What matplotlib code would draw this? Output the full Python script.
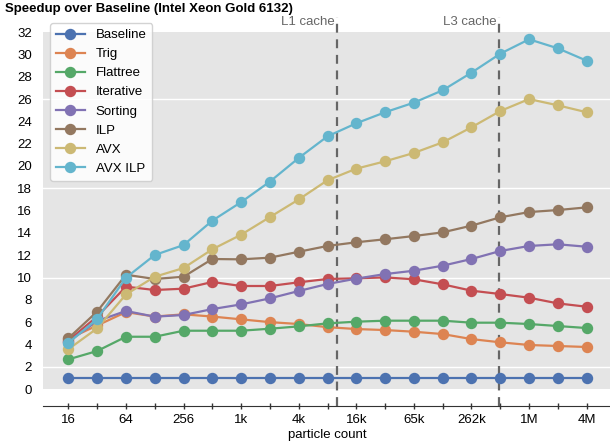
import matplotlib
matplotlib.use("Agg")
import matplotlib.pyplot as plt
from matplotlib.ticker import FixedLocator, NullLocator

plt.rcParams['font.family'] = ['Liberation Sans', 'DejaVu Sans']

# ---- data ----
particles = [16, 32, 64, 128, 256, 512, 1024, 2048, 4096, 8192, 16384, 32768,
             65536, 131072, 262144, 524288, 1048576, 2097152, 4194304]
tick_labels = ["16", "", "64", "", "256", "", "1k", "", "4k", "", "16k", "",
               "65k", "", "262k", "", "1M", "", "4M"]

series_names = ["Baseline", "Trig", "Flattree", "Iterative", "Sorting", "ILP", "AVX", "AVX ILP"]
baseline = [1.0] * 19
trig = [4.5, 5.7, 6.9, 6.5, 6.7, 6.5, 6.25, 6.0, 5.83, 5.55, 5.38, 5.29, 5.14, 4.93, 4.48, 4.19, 3.95, 3.86, 3.77]
flattree = [2.66, 3.41, 4.69, 4.69, 5.23, 5.23, 5.23, 5.41, 5.62, 5.89, 6.04, 6.13, 6.13, 6.13, 5.95, 5.95, 5.83, 5.65, 5.47]
iterative = [4.35, 6.5, 9.18, 8.88, 9.0, 9.6, 9.24, 9.24, 9.57, 9.87, 9.93, 10.01, 9.84, 9.39, 8.82, 8.52, 8.19, 7.68, 7.38]
sorting = [4.25, 6.1, 7.0, 6.49, 6.64, 7.17, 7.59, 8.13, 8.79, 9.42, 9.9, 10.31, 10.61, 11.06, 11.66, 12.38, 12.83, 12.98, 12.76]
ilp = [4.55, 6.95, 10.25, 9.87, 10.07, 11.66, 11.63, 11.78, 12.31, 12.83, 13.16, 13.43, 13.72, 14.05, 14.65, 15.4, 15.87, 16.05, 16.29]
avx = [3.57, 5.44, 8.48, 10.07, 10.85, 12.53, 13.84, 15.42, 17.0, 18.72, 19.76, 20.42, 21.17, 22.12, 23.47, 24.93, 26.0, 25.44, 24.82]
avx_ilp = [4.13, 6.28, 9.98, 12.02, 12.91, 15.1, 16.76, 18.6, 20.72, 22.66, 23.83, 24.82, 25.68, 26.79, 28.37, 30.07, 31.36, 30.55, 29.44]

cache_names = ["L1 cache", "L3 cache"]
cache_pos = [10240, 505000]

yticks = list(range(0, 33, 2))
white_lines = [2, 10, 18, 26]

colors = ["#4C72B0", "#DD8452", "#55A868", "#C44E52", "#8172B3", "#937860", "#CCB974", "#64B5CD"]
all_series = [baseline, trig, flattree, iterative, sorting, ilp, avx, avx_ilp]

# ---- figure ----
fig = plt.figure(figsize=(6.10, 4.48), dpi=100)
ax = fig.add_axes([43 / 610, 1 - 406 / 448, 569 / 610, 389 / 448])
ax.set_xscale('log', base=2)
ax.set_xlim(2 ** 3.12, 2 ** 22.88)
ax.set_ylim(-1.52, 33.36)

ax.axhspan(0, 32, color="#e5e5e5", zorder=0, lw=0)
for w in white_lines:
    ax.axhline(w, color="white", lw=1.0, zorder=0.5)

for name, vals, c in zip(series_names, all_series, colors):
    ax.plot(particles, vals, color=c, lw=1.6, marker='o', markersize=7.2,
            label=name, zorder=3)

for cname, cp in zip(cache_names, cache_pos):
    ax.axvline(cp, color="#666666", lw=1.6, ls=(0, (4, 3)), zorder=2)
    ax.text(cp / 1.06, 32.9, cname, ha='right', va='center', color="#666666",
            fontsize=9.5)

ax.xaxis.set_major_locator(FixedLocator(particles))
ax.xaxis.set_minor_locator(NullLocator())
ax.set_xticklabels(tick_labels)
ax.set_yticks(yticks)
ax.yaxis.set_minor_locator(NullLocator())
ax.tick_params(axis='y', length=0, labelsize=9.5, pad=8)
ax.tick_params(axis='x', length=4, width=1, direction='inout', labelsize=9.5,
               color="#333333", pad=4)
for s in ['top', 'right', 'left']:
    ax.spines[s].set_visible(False)
ax.spines['bottom'].set_color("#333333")
ax.set_xlabel("particle count", fontsize=9.5, labelpad=2)

leg = ax.legend(loc='upper left', bbox_to_anchor=(7 / 569, 1 - 6 / 389), fontsize=9.5,
                frameon=True, fancybox=True, framealpha=0.85, edgecolor="#cccccc",
                handlelength=2.2, labelspacing=0.52, borderpad=0.45, handletextpad=0.8,
                borderaxespad=0)
leg.set_zorder(5)

fig.text(5 / 610, 1 - 9 / 448, "Speedup over Baseline (Intel Xeon Gold 6132)",
         fontsize=9.5, fontweight='bold', ha='left', va='center')

fig.savefig("out.png", dpi=100)
